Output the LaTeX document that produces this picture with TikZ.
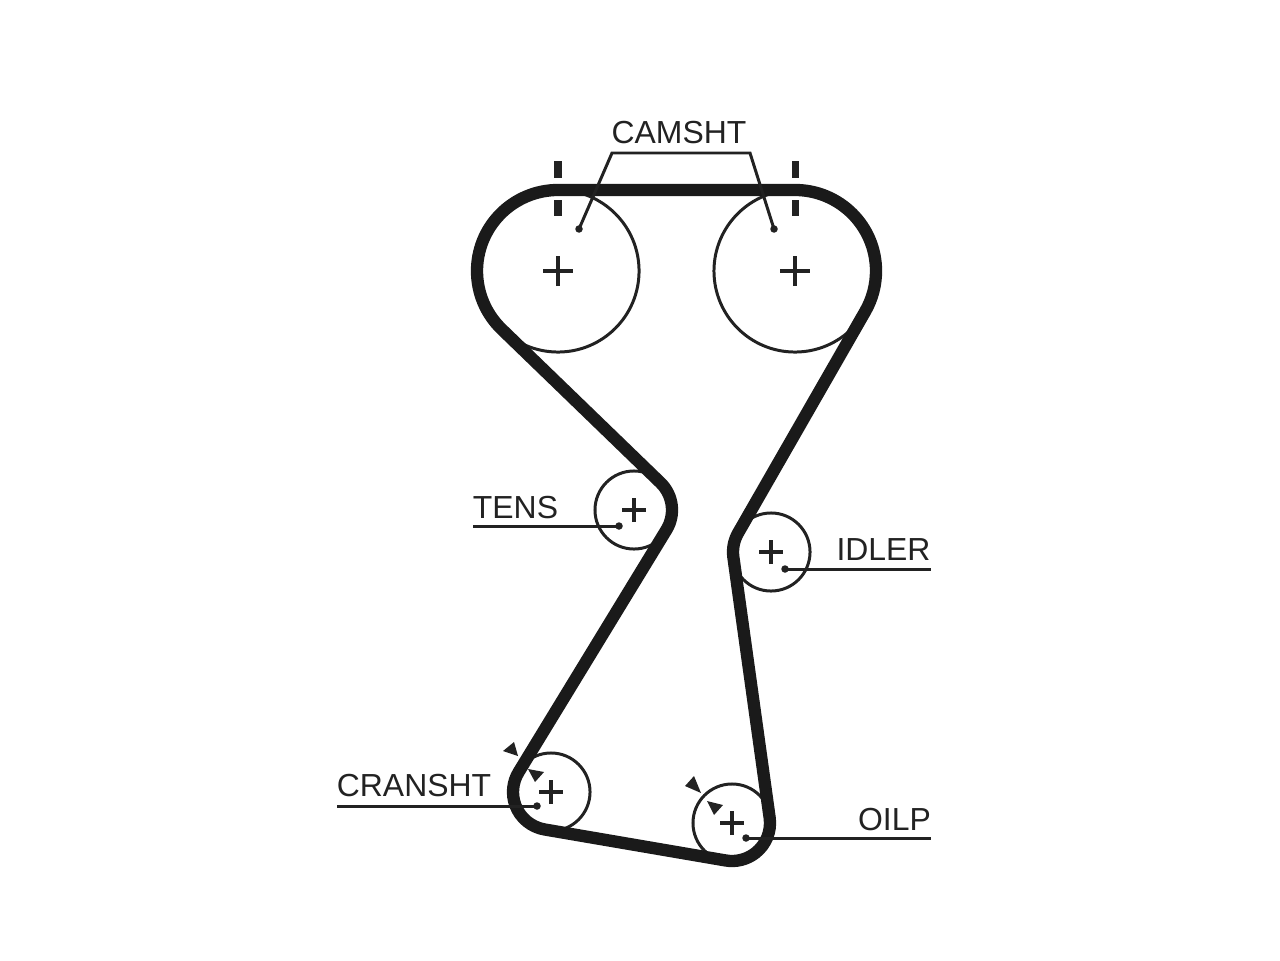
\documentclass[tikz,border=0pt]{standalone}
\usepackage{fontspec}
\setmainfont{Liberation Sans}
\tikzset{
  pulley/.style={circle,draw=inkc,line width=0.85pt,inner sep=0pt},
  leader/.style={draw=inkc,line width=0.85pt},
  dot/.style={circle,fill=inkc,inner sep=0pt,minimum size=0.075cm},
  lab/.style={anchor=base,inner sep=0pt,text=inkc,font=\fontsize{9.07pt}{11pt}\selectfont},
  plusbar/.style={draw=inkc,line width=0.9pt}
}
\definecolor{inkc}{HTML}{222222}
\definecolor{beltc}{HTML}{1A1A1A}
\begin{document}
\begin{tikzpicture}[x=0.01cm,y=0.01cm]
\useasboundingbox (0,0) rectangle (1280,960);
% pulleys
\node[pulley,minimum size=1.62cm] (camL) at (558,689) {};
\node[pulley,minimum size=1.62cm] (camR) at (795,689) {};
\node[pulley,minimum size=0.78cm] (tens) at (634,450) {};
\node[pulley,minimum size=0.78cm] (idler) at (771,408) {};
\node[pulley,minimum size=0.78cm] (crank) at (551,168) {};
\node[pulley,minimum size=0.78cm] (oil) at (732,137) {};
% centre marks
\foreach \p/\s in {camL/15,camR/15,tens/12,idler/12,crank/12,oil/12} {
  \draw[plusbar] ([xshift=-\s*0.01cm]\p.center) -- ([xshift=\s*0.01cm]\p.center);
  \draw[plusbar] ([yshift=-\s*0.01cm]\p.center) -- ([yshift=\s*0.01cm]\p.center);
}
% belt
\draw[beltc,line width=3.5pt,line join=round]
  ([shift={(90:81)}]camL.center) -- ([shift={(90:81)}]camR.center)
  arc (90:-29.9:81)
  -- ([shift={(150.1:38)}]idler.center) arc (150.1:187.9:38)
  -- ([shift={(7.9:38)}]oil.center) arc (7.9:-99.7:38)
  -- ([shift={(260.3:38)}]crank.center) arc (260.3:148.4:38)
  -- ([shift={(-31.6:38)}]tens.center) arc (-31.6:45.9:38)
  -- ([shift={(225.9:81)}]camL.center) arc (225.9:90:81)
  -- cycle;
% timing ticks
\foreach \p in {camL,camR} {
  \draw[inkc,line width=2pt] ([yshift=0.93cm]\p.center) -- ([yshift=1.10cm]\p.center);
  \draw[inkc,line width=2pt] ([yshift=0.55cm]\p.center) -- ([yshift=0.71cm]\p.center);
}
% leaders
\node[dot] (dotL) at (579,731) {};
\node[dot] (dotR) at (774,731) {};
\node[dot] (dotT) at (619,434) {};
\node[dot] (dotI) at (785,391) {};
\node[dot] (dotC) at (537,154) {};
\node[dot] (dotO) at (746,122) {};
\coordinate (bendL) at (612,807);
\coordinate (bendR) at (750,807);
\coordinate (endT) at (473,434);
\coordinate (endI) at (931,391);
\coordinate (endC) at (337,154);
\coordinate (endO) at (931,122);
\draw[leader] (dotL.center) -- (bendL) -- (bendR) -- (dotR.center);
\draw[leader] (dotT.center) -- (endT);
\draw[leader] (dotI.center) -- (endI);
\draw[leader] (dotC.center) -- (endC);
\draw[leader] (dotO.center) -- (endO);
% labels
\node[lab] (lblcam) at (679,816) {CAMSHT};
\node[lab] (lbltens) at (515.5,442) {TENS};
\node[lab] (lblidler) at (883.5,400) {IDLER};
\node[lab] (lblcrank) at (414,164) {CRANSHT};
\node[lab] (lbloil) at (894.5,130) {OILP};
% arrow marks
\fill[inkc] (503,209) -- (514,218) -- (518,204) -- cycle;
\fill[inkc] (528,191) -- (544,188) -- (535,178) -- cycle;
\fill[inkc] (685,174) -- (694,184) -- (701,167) -- cycle;
\fill[inkc] (707,159) -- (723,155) -- (714,145) -- cycle;
\end{tikzpicture}
\end{document}
